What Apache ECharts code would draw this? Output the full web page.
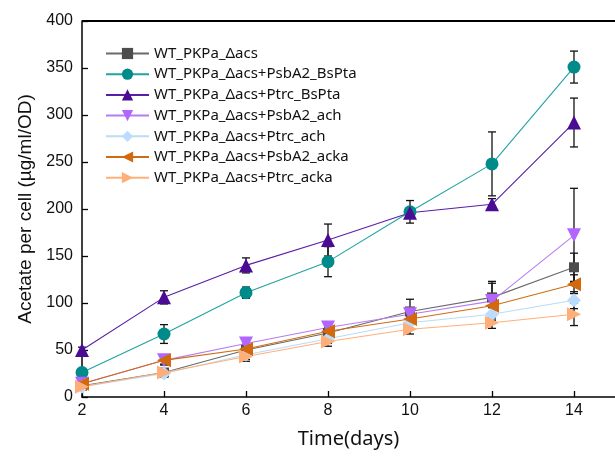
<!DOCTYPE html>
<html><head><meta charset="utf-8">
<script src="https://cdn.jsdelivr.net/npm/echarts@6/dist/echarts.min.js"></script>
<style>html,body{margin:0;padding:0;background:#fff}#c{width:615px;height:457px}</style>
</head><body><div id="c"></div>
<script>
const days = [2, 4, 6, 8, 10, 12, 14];
const seriesNames = ['WT_PKPa_\u0394acs','WT_PKPa_\u0394acs+PsbA2_BsPta','WT_PKPa_\u0394acs+Ptrc_BsPta','WT_PKPa_\u0394acs+PsbA2_ach','WT_PKPa_\u0394acs+Ptrc_ach','WT_PKPa_\u0394acs+PsbA2_acka','WT_PKPa_\u0394acs+Ptrc_acka'];
const vGray   = [12, 26, 50, 68, 91, 106, 138];
const vTeal   = [26, 67, 111, 144, 197, 248, 351];
const vPurple = [50, 106, 140, 167, 196, 205, 292];
const vLilac  = [14, 39, 57, 74, 88, 102, 172];
const vLBlue  = [11, 25, 45, 62, 79, 88, 103];
const vOrange = [14, 39, 51, 70, 83, 97, 120];
const vPeach  = [11, 26, 43, 59, 72, 79, 88];
const eGray   = [3, 4, 5, 6, 13, 17, 15];
const eTeal   = [3, 10, 6, 16, 12, 34, 17];
const ePurple = [3, 7, 8, 17, 5, 6, 26];
const eLilac  = [3, 4, 5, 5, 6, 19, 50];
const eLBlue  = [2, 4, 5, 5, 6, 7, 9];
const eOrange = [3, 5, 5, 5, 6, 8, 10];
const ePeach  = [2, 4, 5, 5, 5, 6, 12];
const yTicks = [0, 50, 100, 150, 200, 250, 300, 350, 400];

const vals = [vGray, vTeal, vPurple, vLilac, vLBlue, vOrange, vPeach];
const errs = [eGray, eTeal, ePurple, eLilac, eLBlue, eOrange, ePeach];
const lineCols = ['#6a6a6a','#1fa3a3','#5a1ea6','#b77cf5','#b9dcf7','#d06c10','#ffb07a'];
const markCols = ['#4d4d4d','#008b8b','#4b0c94','#b266ff','#bcdcff','#d2690e','#ffae78'];
const symbols = ['rect','circle','triangle','triangle','diamond','triangle','triangle'];
const rotates = [0, 0, 0, 180, 0, 90, -90];
const sizes = [10, 13, 14, 14, 14, 14, 14];

const chart = echarts.init(document.getElementById('c'), null, {renderer:'canvas'});
const series = [];
vals.forEach((v, i) => {
  series.push({
    type: 'custom', name: seriesNames[i] + '_err', z: 3, silent: true,
    data: days.map((d, k) => [d, v[k] - errs[i][k], v[k] + errs[i][k]]),
    renderItem: function (params, api) {
      const lo = api.coord([api.value(0), api.value(1)]);
      const hi = api.coord([api.value(0), api.value(2)]);
      const w = 4;
      const st = {stroke: '#111', lineWidth: 1.3};
      return {type: 'group', children: [
        {type: 'line', shape: {x1: lo[0], y1: lo[1], x2: hi[0], y2: hi[1]}, style: st},
        {type: 'line', shape: {x1: lo[0]-w, y1: lo[1], x2: lo[0]+w, y2: lo[1]}, style: st},
        {type: 'line', shape: {x1: hi[0]-w, y1: hi[1], x2: hi[0]+w, y2: hi[1]}, style: st}
      ]};
    }
  });
});
vals.forEach((v, i) => {
  series.push({
    type: 'line', name: seriesNames[i], z: 4,
    data: days.map((d, k) => [d, v[k]]),
    symbol: symbols[i], symbolRotate: rotates[i], symbolSize: sizes[i],
    lineStyle: {color: lineCols[i], width: 1.1},
    itemStyle: {color: markCols[i]},
    color: markCols[i],
    animation: false
  });
});

chart.setOption({
  animation: false,
  grid: {left: 82, right: 0, top: 21, bottom: 60, containLabel: false},
  legend: {
    data: seriesNames, orient: 'vertical', left: 100, top: 41,
    itemWidth: 43, itemHeight: 14, itemGap: 5.7,
    textStyle: {fontFamily: 'Noto Sans', fontSize: 15, color: '#111'}
  },
  xAxis: {
    type: 'value', min: 2, max: 15, interval: 1,
    name: 'Time(days)', nameLocation: 'middle', nameGap: 32,
    nameTextStyle: {fontFamily: 'Noto Sans', fontSize: 20, color: '#111'},
    axisLine: {onZero: false, lineStyle: {color: '#000', width: 1.5}},
    axisTick: {inside: true, length: 6, lineStyle: {color: '#000', width: 1.3},
      customValues: days},
    axisLabel: {customValues: days, fontFamily: 'Liberation Sans', fontSize: 16, color: '#111', margin: 6},
    splitLine: {show: false}
  },
  yAxis: {
    type: 'value', min: 0, max: 400, interval: 50,
    name: 'Acetate per cell (\u00b5g/ml/OD)', nameLocation: 'middle', nameGap: 47,
    nameTextStyle: {fontFamily: 'Liberation Sans', fontSize: 19, color: '#111'},
    axisLine: {lineStyle: {color: '#000', width: 1.5}},
    axisTick: {inside: true, length: 6, lineStyle: {color: '#000', width: 1.3}},
    axisLabel: {fontFamily: 'Liberation Sans', fontSize: 16, color: '#111', margin: 9,
      formatter: v => yTicks.includes(v) ? String(v) : ''},
    splitLine: {show: false}
  },
  graphic: [],
  series: series
});
const gr = chart.getModel().getComponent('grid').coordinateSystem.getRect();
chart.setOption({graphic: [{type: 'line', shape: {x1: gr.x, y1: gr.y, x2: gr.x + gr.width, y2: gr.y}, style: {stroke: '#000', lineWidth: 2}, z: 10}]});
</script></body></html>
